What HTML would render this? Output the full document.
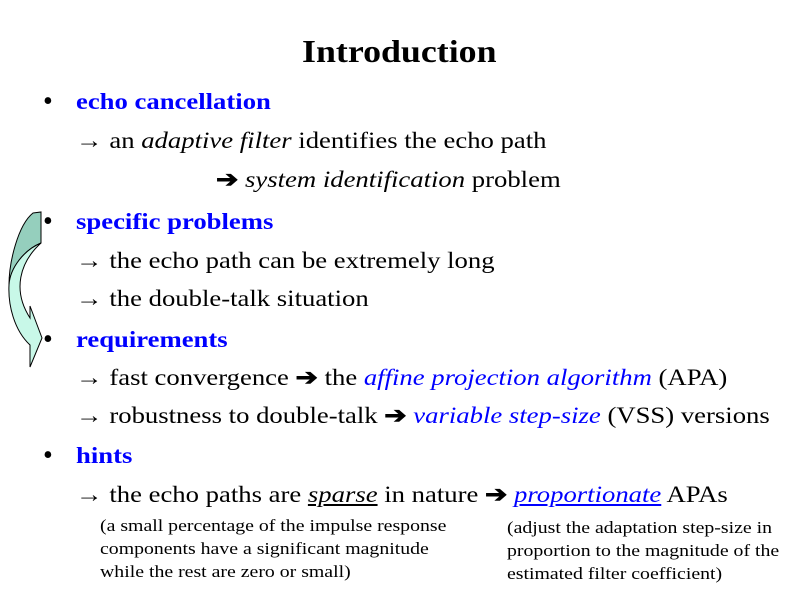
<!DOCTYPE html>
<html><head><style>
body{margin:0;width:800px;height:599px;background:#fff;position:relative;font-family:"Liberation Serif",serif;overflow:hidden}
.t{position:absolute;white-space:nowrap;font-size:23px;color:#000;transform:scaleX(1.16);transform-origin:0 0}
.b{color:#0000ff;font-weight:bold}
.bl{color:#0000ff}
.a{font-size:23px}
.bu{position:absolute;font-size:28px;left:43px}
.s{position:absolute;white-space:nowrap;font-size:16.5px;line-height:23px;transform:scaleX(1.2);transform-origin:0 0}
</style></head><body>
<div class="t" style="left:302px;top:33px;font-size:32px;font-weight:bold;transform:scaleX(1.12)">Introduction</div>
<div class="bu" style="top:86px">•</div><div class="t b" style="left:76px;top:89px">echo cancellation</div>
<div class="t" style="left:76px;top:128px"><span class="a">→</span> an <i>adaptive filter</i> identifies the echo path</div>
<div class="t" style="left:216px;top:167px"><b>➔</b> <i>system identification</i> problem</div>
<div class="bu" style="top:206px">•</div><div class="t b" style="left:76px;top:209px">specific problems</div>
<div class="t" style="left:76px;top:248px"><span class="a">→</span> the echo path can be extremely long</div>
<div class="t" style="left:76px;top:286px"><span class="a">→</span> the double-talk situation</div>
<div class="bu" style="top:324px">•</div><div class="t b" style="left:76px;top:327px">requirements</div>
<div class="t" style="left:76px;top:365px"><span class="a">→</span> fast convergence <b>➔</b> the <i class="bl">affine projection algorithm</i> (APA)</div>
<div class="t" style="left:76px;top:403px"><span class="a">→</span> robustness to double-talk <b>➔</b> <i class="bl">variable step-size</i> (VSS) versions</div>
<div class="bu" style="top:440px">•</div><div class="t b" style="left:76px;top:443px">hints</div>
<div class="t" style="left:76px;top:482px"><span class="a">→</span> the echo paths are <i><u>sparse</u></i> in nature <b>➔</b> <i class="bl"><u>proportionate</u></i> APAs</div>
<div class="s" style="left:100px;top:514px">(a small percentage of the impulse response<br>components have a significant magnitude<br>while the rest are zero or small)</div>
<div class="s" style="left:507px;top:516px">(adjust the adaptation step-size in<br>proportion to the magnitude of the<br>estimated filter coefficient)</div>
<svg style="position:absolute;left:0;top:0" width="60" height="380">
<path d="M33,213 L41,212 L41,243 C24,250 10,268 9,285 C9,262 18,225 33,213 Z" fill="#95cfbd" stroke="#000" stroke-width="1"/>
<path d="M9,285 C10,268 24,250 41,243 L41,243 C20,262 12,290 30,318 L30,306 L42,338 L30,367 L30,345 C14,330 8,305 9,285 Z" fill="#c8f8e8" stroke="#000" stroke-width="1"/>
</svg>
</body></html>
